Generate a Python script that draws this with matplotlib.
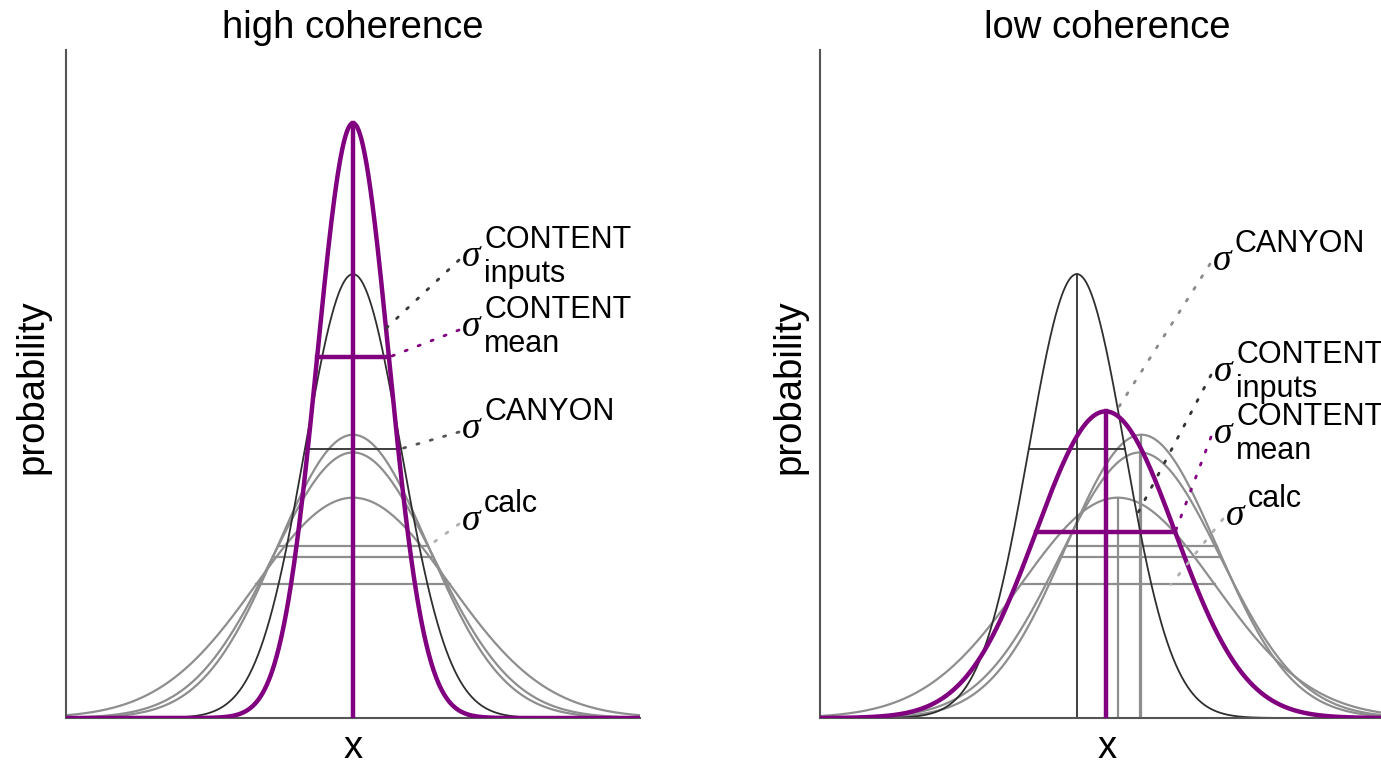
import numpy as np
import matplotlib
matplotlib.use("Agg")
import matplotlib.pyplot as plt

W, H, DPI = 1381, 766, 100

# ---------------- data ----------------
panel_titles = ["high coherence", "low coherence"]
x_label = "x"
y_label = "probability"

# curve order: three calc curves, CANYON, CONTENT (mean)
curve_kind = ["calc", "calc", "calc", "canyon", "mean"]
high_mu = [0.0, 0.0, 0.0, 0.0, 0.0]
high_sigma = [1.05, 1.12, 1.35, 0.67, 0.50]
low_mu = [0.48, 0.46, 0.15, -0.42, -0.02]
low_sigma = [1.05, 1.12, 1.35, 0.67, 0.97]

x_min, x_max = -4.0, 4.0
y_max = 0.896

# label specs: superscript, subscript, target curve index,
# x position along curve (in sigmas), y level (in sigmas, None = on curve)
high_labels = [("CONTENT", "inputs", 4, 0.92, None),
               ("CONTENT", "mean", 4, 1.0, None),
               ("CANYON", None, 3, 1.0, None),
               ("calc", None, 0, 1.0, None)]
low_labels = [("CANYON", None, 3, 0.85, None),
              ("CONTENT", "inputs", 3, 1.25, None),
              ("CONTENT", "mean", 4, 1.0, None),
              ("calc", None, 2, 0.55, 1.0)]

# ---------------- styles / layout ----------------
PURPLE = "#800080"
style = {"calc": dict(color="#8e8e8e", lw=1.6),
         "canyon": dict(color="#2f2f2f", lw=1.3),
         "mean": dict(color=PURPLE, lw=3.2)}
leader_color = {"high": ["#3a3a3a", PURPLE, "#555555", "#b0b0b0"],
                "low": ["#8a8a8a", "#333333", PURPLE, "#b0b0b0"]}
# sigma-glyph centres in figure pixels (from top-left)
label_pos = {"high": [(471, 258), (471, 328), (471, 430), (471, 522)],
             "low": [(1222, 262), (1223, 373), (1223, 435), (1235, 517)]}

SANS = ["Liberation Sans", "DejaVu Sans"]
SERIF = ["Liberation Serif", "DejaVu Serif"]

fig = plt.figure(figsize=(W / DPI, H / DPI), dpi=DPI)
fig.patch.set_facecolor("white")

ax_left_px = [66, 820]
ax_w_px, ax_top_px, ax_bot_px = 574, 50, 718


def gauss(x, mu, s):
    return np.exp(-0.5 * ((x - mu) / s) ** 2) / (s * np.sqrt(2 * np.pi))


def fig_to_data(ax, px, py):
    disp = (px, H - py)
    return ax.transData.inverted().transform(disp)


panels = [("high", high_mu, high_sigma, high_labels),
          ("low", low_mu, low_sigma, low_labels)]

xs = np.linspace(x_min, x_max, 1200)

for i, (key, mus, sigs, labels) in enumerate(panels):
    ax = fig.add_axes([ax_left_px[i] / W, (H - ax_bot_px) / H,
                       ax_w_px / W, (ax_bot_px - ax_top_px) / H])
    ax.set_xlim(x_min, x_max)
    ax.set_ylim(0, y_max)
    ax.set_xticks([])
    ax.set_yticks([])
    for sp in ["top", "right"]:
        ax.spines[sp].set_visible(False)
    for sp in ["left", "bottom"]:
        ax.spines[sp].set_color("#555555")
        ax.spines[sp].set_linewidth(1.5)
    ax.set_facecolor("white")

    for j in range(len(mus)):
        mu, s, kind = mus[j], sigs[j], curve_kind[j]
        st = style[kind]
        z = 3 if kind == "mean" else (2 if kind == "canyon" else 1)
        ax.plot(xs, gauss(xs, mu, s), color=st["color"], lw=st["lw"], zorder=z,
                solid_capstyle="butt")
        peak = gauss(mu, mu, s)
        ax.plot([mu, mu], [0, peak], color=st["color"], lw=st["lw"], zorder=z)
        h = gauss(mu + s, mu, s)
        ax.plot([mu - s, mu + s], [h, h], color=st["color"], lw=st["lw"], zorder=z)

    # labels and dotted leaders
    for (sup, sub, ci, k, lev), (cx, cy), lc in zip(labels, label_pos[key],
                                                   leader_color[key]):
        fig.text((cx - 9) / W, 1 - (cy + 8) / H, "σ", family=SERIF, style="italic",
                 fontsize=27, ha="left", va="baseline")
        fig.text((cx + 13) / W, 1 - (cy - 10) / H, sup, family=SANS, fontsize=22,
                 ha="left", va="baseline")
        if sub:
            fig.text((cx + 13) / W, 1 - (cy + 24) / H, sub, family=SANS, fontsize=22,
                     ha="left", va="baseline")
        mu, s = mus[ci], sigs[ci]
        tx = mu + k * s
        ty = gauss(tx if lev is None else mu + lev * s, mu, s)
        sx, sy = fig_to_data(ax, cx - 12, cy + 2)
        ax.plot([sx, tx], [sy, ty], color=lc, lw=2.0, linestyle=(0, (0.8, 4.2)),
                dash_capstyle="round", clip_on=False, zorder=4)

    # titles and axis labels
    cxp = ax_left_px[i] + ax_w_px / 2
    fig.text(cxp / W, 1 - 38 / H, panel_titles[i], family=SANS, fontsize=27.5,
             ha="center", va="baseline")
    fig.text(cxp / W, 1 - 758 / H, x_label, family=SANS, fontsize=27.5,
             ha="center", va="baseline")
    ylx = [32, 789][i]
    fig.text(ylx / W, 1 - 387 / H, y_label, family=SANS, fontsize=27.5,
             rotation=90, ha="center", va="center")

fig.savefig("out.png", dpi=DPI, facecolor="white")
